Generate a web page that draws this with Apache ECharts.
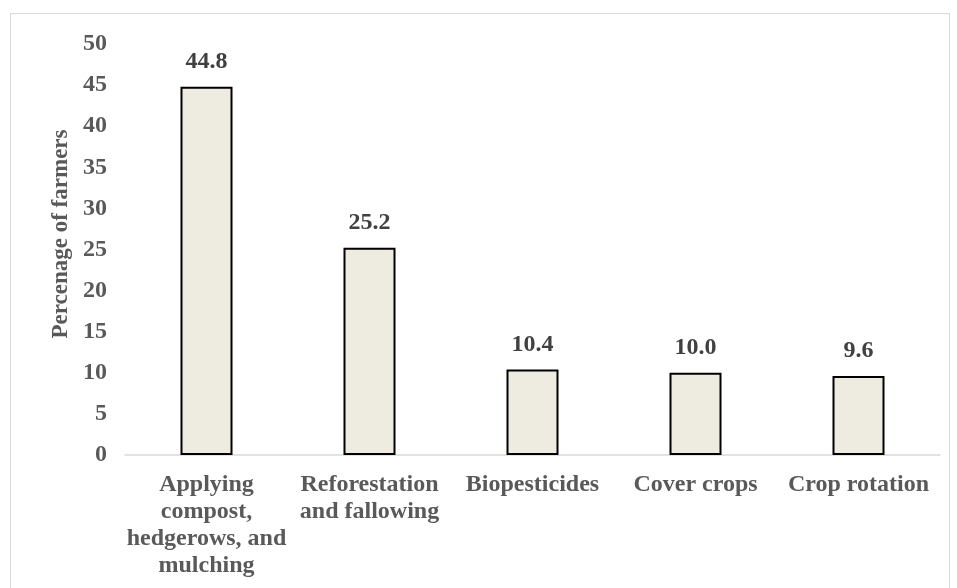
<!DOCTYPE html>
<html>
<head>
<meta charset="utf-8">
<script src="https://cdn.jsdelivr.net/npm/echarts@6/dist/echarts.min.js"></script>
<style>
  html, body { margin: 0; padding: 0; background: #fff; }
  #frame { position: absolute; left: 10px; top: 13px; width: 940px; height: 600px; border: 1px solid #d9d9d9; box-sizing: border-box; }
  #chart { position: absolute; left: 0; top: 0; width: 957px; height: 588px; }
</style>
</head>
<body>
<div id="frame"></div>
<div id="chart"></div>
<script>
const categories = [
  'Applying\ncompost,\nhedgerows, and\nmulching',
  'Reforestation\nand fallowing',
  'Biopesticides',
  'Cover crops',
  'Crop rotation'
]
const values = [44.8, 25.2, 10.4, 10.0, 9.6]
const yTicks = [0, 50, 5]

const font = '"Liberation Serif", "Times New Roman", serif'

const chart = echarts.init(document.getElementById('chart'))

const option = {
  backgroundColor: 'transparent',
  animation: false,
  grid: { left: 125, right: 17, top: 44, bottom: 133 },
  xAxis: {
    type: 'category',
    data: categories,
    axisLine: { lineStyle: { color: '#d9d9d9', width: 1.5 } },
    axisTick: { show: false },
    axisLabel: {
      interval: 0,
      margin: 16,
      color: '#595959',
      fontFamily: font,
      fontWeight: 'bold',
      fontSize: 24,
      lineHeight: 27
    }
  },
  yAxis: {
    type: 'value',
    min: yTicks[0],
    max: yTicks[1],
    interval: yTicks[2],
    name: 'Percenage of farmers',
    nameLocation: 'middle',
    nameGap: 48,
    nameTextStyle: {
      color: '#595959',
      fontFamily: font,
      fontWeight: 'bold',
      fontSize: 23,
      padding: [0, 0, 0, 31]
    },
    axisLine: { show: false },
    axisTick: { show: false },
    splitLine: { show: false },
    axisLabel: {
      margin: 18,
      color: '#595959',
      fontFamily: font,
      fontWeight: 'bold',
      fontSize: 24
    }
  },
  series: [{
    type: 'bar',
    data: values,
    barWidth: 52,
    itemStyle: { color: '#eeebe0', borderColor: '#000', borderWidth: 2 },
    label: {
      show: true,
      position: 'top',
      distance: 13,
      formatter: p => p.value.toFixed(1),
      color: '#404040',
      fontFamily: font,
      fontWeight: 'bold',
      fontSize: 24
    }
  }]
}

chart.setOption(option)
</script>
</body>
</html>
